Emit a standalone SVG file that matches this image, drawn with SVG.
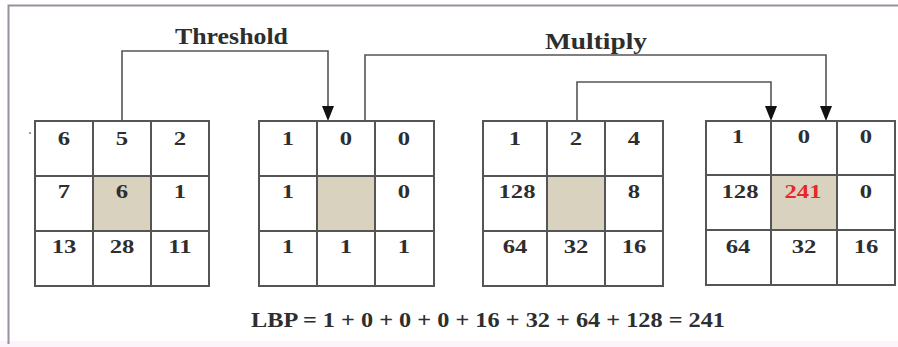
<svg xmlns="http://www.w3.org/2000/svg" width="898" height="347" viewBox="0 0 898 347">
<defs>
<style>
.cell{fill:#fff;stroke:#555;stroke-width:2}
.ctr{fill:#d8d2bf;stroke:#555;stroke-width:2}
.t{font-family:"Liberation Serif",serif;font-weight:bold;font-size:19px;fill:#2e2e2e;text-anchor:middle;transform-box:fill-box;transform-origin:center;transform:scaleX(1.3)}
.lbl{font-family:"Liberation Serif",serif;font-weight:bold;font-size:23px;fill:#2e2e2e}
.c{fill:none;stroke:#555;stroke-width:1.6}
.red{fill:#e8262b}
</style>
</defs>
<rect x="0" y="0" width="898" height="347" fill="#fff"/>
<rect x="0" y="341" width="898" height="6" fill="#fdf3fb"/>
<path d="M8.5,344 V5.5 H898" fill="none" stroke="#9a8fa0" stroke-width="2"/>
<circle cx="30" cy="133" r="1" fill="#777"/>

<g id="connectors">
<path class="c" d="M122,121 V51 H328 V106"/>
<path d="M322,106 L334,106 L328,121 Z" fill="#111"/>
<path class="c" d="M365,121 V55 H826 V106"/>
<path d="M820,106 L832,106 L826,121 Z" fill="#111"/>
<path class="c" d="M577,121 V82 H771 V106"/>
<path d="M765,106 L777,106 L771,121 Z" fill="#111"/>
</g>

<g id="label-threshold"><text class="lbl" x="175" y="44" textLength="113" lengthAdjust="spacingAndGlyphs">Threshold</text></g>
<g id="label-multiply"><text class="lbl" x="545" y="49" textLength="102" lengthAdjust="spacingAndGlyphs">Multiply</text></g>

<g id="grid-input">
<rect class="cell" x="35" y="121" width="58" height="55"/><rect class="cell" x="93" y="121" width="58" height="55"/><rect class="cell" x="151" y="121" width="58" height="55"/>
<rect class="cell" x="35" y="176" width="58" height="55"/><rect class="ctr" x="93" y="176" width="58" height="55"/><rect class="cell" x="151" y="176" width="58" height="55"/>
<rect class="cell" x="35" y="231" width="58" height="55"/><rect class="cell" x="93" y="231" width="58" height="55"/><rect class="cell" x="151" y="231" width="58" height="55"/>
<text class="t" x="64" y="145">6</text><text class="t" x="122" y="145">5</text><text class="t" x="180" y="145">2</text>
<text class="t" x="64" y="198">7</text><text class="t" x="122" y="198">6</text><text class="t" x="180" y="198">1</text>
<text class="t" x="64" y="253">13</text><text class="t" x="122" y="253">28</text><text class="t" x="180" y="253">11</text>
</g>

<g id="grid-threshold">
<rect class="cell" x="259" y="121" width="58" height="55"/><rect class="cell" x="317" y="121" width="58" height="55"/><rect class="cell" x="375" y="121" width="59" height="55"/>
<rect class="cell" x="259" y="176" width="58" height="55"/><rect class="ctr" x="317" y="176" width="58" height="55"/><rect class="cell" x="375" y="176" width="59" height="55"/>
<rect class="cell" x="259" y="231" width="58" height="55"/><rect class="cell" x="317" y="231" width="58" height="55"/><rect class="cell" x="375" y="231" width="59" height="55"/>
<text class="t" x="288" y="145">1</text><text class="t" x="346" y="145">0</text><text class="t" x="404" y="145">0</text>
<text class="t" x="288" y="198">1</text><text class="t" x="404" y="198">0</text>
<text class="t" x="288" y="253">1</text><text class="t" x="346" y="253">1</text><text class="t" x="404" y="253">1</text>
</g>

<g id="grid-weights">
<rect class="cell" x="483" y="121" width="64" height="55"/><rect class="cell" x="547" y="121" width="58" height="55"/><rect class="cell" x="605" y="121" width="58" height="55"/>
<rect class="cell" x="483" y="176" width="64" height="55"/><rect class="ctr" x="547" y="176" width="58" height="55"/><rect class="cell" x="605" y="176" width="58" height="55"/>
<rect class="cell" x="483" y="231" width="64" height="55"/><rect class="cell" x="547" y="231" width="58" height="55"/><rect class="cell" x="605" y="231" width="58" height="55"/>
<text class="t" x="515" y="145">1</text><text class="t" x="576" y="145">2</text><text class="t" x="634" y="145">4</text>
<text class="t" x="517" y="198">128</text><text class="t" x="634" y="198">8</text>
<text class="t" x="515" y="253">64</text><text class="t" x="576" y="253">32</text><text class="t" x="634" y="253">16</text>
</g>

<g id="grid-result">
<rect class="cell" x="706" y="121" width="65" height="54"/><rect class="cell" x="771" y="121" width="66" height="54"/><rect class="cell" x="837" y="121" width="58" height="54"/>
<rect class="cell" x="706" y="175" width="65" height="55"/><rect class="ctr" x="771" y="175" width="66" height="55"/><rect class="cell" x="837" y="175" width="58" height="55"/>
<rect class="cell" x="706" y="230" width="65" height="55"/><rect class="cell" x="771" y="230" width="66" height="55"/><rect class="cell" x="837" y="230" width="58" height="55"/>
<text class="t" x="738" y="143">1</text><text class="t" x="804" y="143">0</text><text class="t" x="866" y="143">0</text>
<text class="t" x="740" y="198">128</text><text class="t red" x="803" y="198">241</text><text class="t" x="866" y="198">0</text>
<text class="t" x="738" y="253">64</text><text class="t" x="804" y="253">32</text><text class="t" x="866" y="253">16</text>
</g>

<g id="formula"><text class="lbl" x="251" y="327" textLength="474" lengthAdjust="spacingAndGlyphs" style="font-size:22px">LBP = 1 + 0 + 0 + 0 + 16 + 32 + 64 + 128 = 241</text></g>
</svg>
